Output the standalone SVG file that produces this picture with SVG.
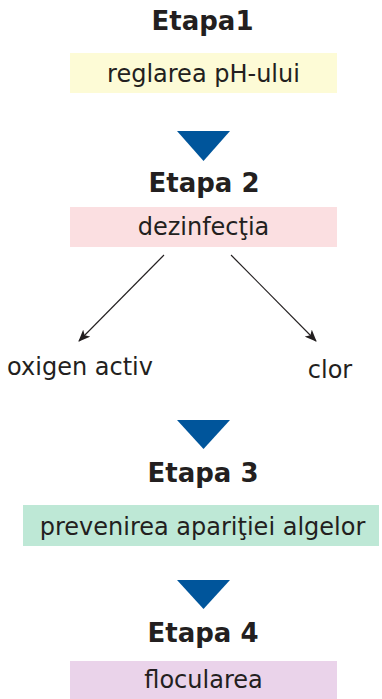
<svg xmlns="http://www.w3.org/2000/svg" width="382" height="699" viewBox="0 0 382 699">
<style>
.h{font-family:"DejaVu Sans",Verdana,sans-serif;font-weight:bold;font-size:26px;fill:#231f20;text-anchor:middle}
.t{font-family:"DejaVu Sans",Verdana,sans-serif;font-size:24px;fill:#231f20;text-anchor:middle}
.tri{fill:#00559b}
.con{stroke:#231f20;stroke-width:1.1;fill:none;marker-end:url(#ah)}
</style>
<defs>
<marker id="ah" viewBox="0 0 12 10" refX="11" refY="5" markerWidth="12" markerHeight="10" markerUnits="userSpaceOnUse" orient="auto">
<path d="M0,0 L12,5 L0,10 L3,5 Z" fill="#231f20"/>
</marker>
</defs>
<rect width="382" height="699" fill="#ffffff"/>
<g id="etapa1">
<text class="h" x="202.5" y="30">Etapa1</text>
<rect x="70" y="53" width="267" height="40" fill="#fdfbd6"/>
<text class="t" x="203.5" y="82">reglarea pH-ului</text>
</g>
<g id="etapa2">
<text class="h" x="204" y="192">Etapa 2</text>
<rect x="70" y="207" width="267" height="40" fill="#fbdfe1"/>
<text class="t" x="203.5" y="235">dezinfecţia</text>
</g>
<g id="oxigen">
<text class="t" x="80" y="375">oxigen activ</text>
</g>
<g id="clor">
<text class="t" x="330" y="378">clor</text>
</g>
<g id="etapa3">
<text class="h" x="203" y="482">Etapa 3</text>
<rect x="23" y="505" width="356" height="41" fill="#bee8d6"/>
<text class="t" x="202.5" y="535">prevenirea apariţiei algelor</text>
</g>
<g id="etapa4">
<text class="h" x="203" y="642">Etapa 4</text>
<rect x="70" y="661" width="267" height="38" fill="#ead3ea"/>
<text class="t" x="203.5" y="688">flocularea</text>
</g>
<g id="connectors">
<polygon class="tri" points="177,131 230,131 203.5,161"/>
<polygon class="tri" points="177,420 230,420 203.5,449"/>
<polygon class="tri" points="177,580 230,580 203.5,609"/>
<line class="con" x1="164" y1="255" x2="79" y2="341"/>
<line class="con" x1="231" y1="255" x2="316" y2="341"/>
</g>
</svg>
